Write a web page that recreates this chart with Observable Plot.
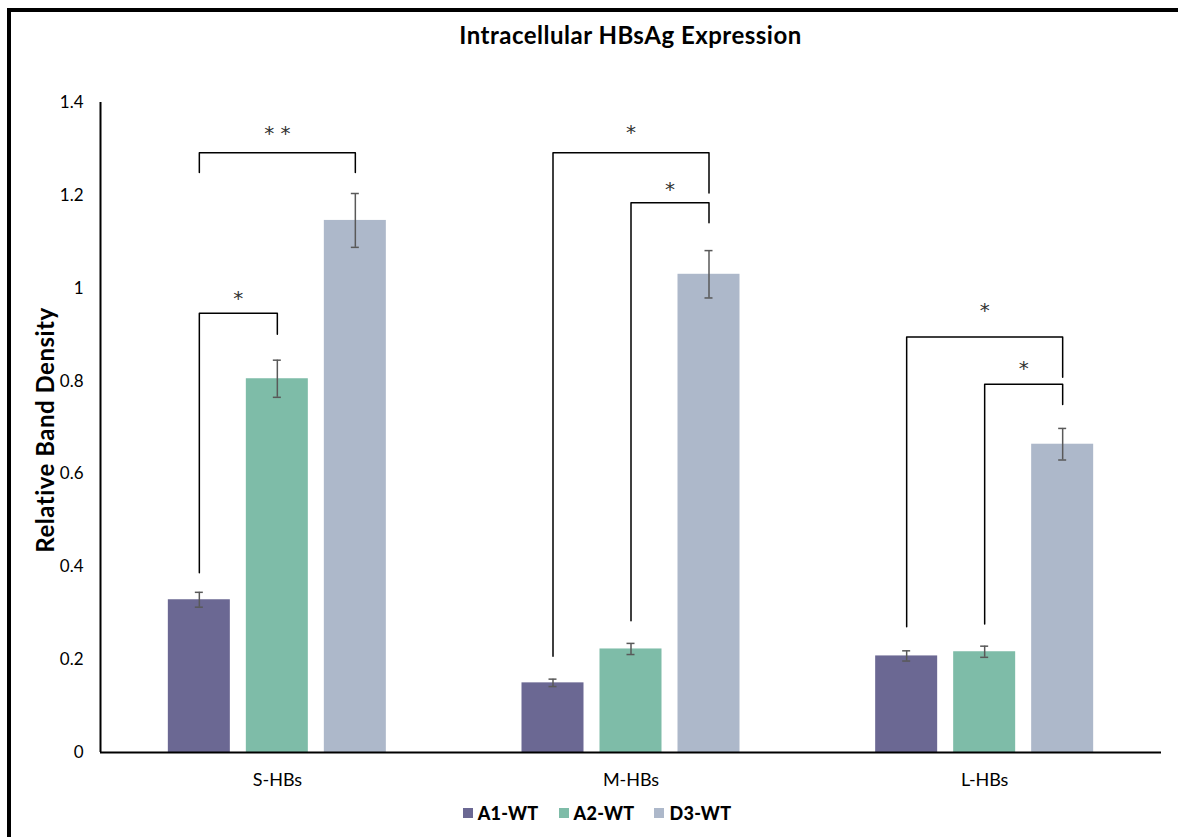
<!DOCTYPE html>
<html><head><meta charset="utf-8">
<script src="https://cdn.jsdelivr.net/npm/d3@7"></script>
<script src="https://cdn.jsdelivr.net/npm/@observablehq/plot@0.6"></script>
<style>
html,body{margin:0;padding:0;background:#fff;overflow:hidden}
#root{position:relative;width:1178px;height:837px;font-family:Lato,"Open Sans",sans-serif;color:#000}
#frame{position:absolute;left:7px;top:8px;width:1300px;height:1000px;border-left:4px solid #000;border-top:4px solid #000;box-sizing:border-box}
#chart{position:absolute;left:0;top:0}
#title{position:absolute;left:100px;width:1061px;top:20px;text-align:center;font-weight:bold;font-size:24px;letter-spacing:0.5px}
#ylabel{position:absolute;left:44px;top:430px;transform:translate(-50%,-50%) rotate(-90deg);white-space:nowrap;font-weight:bold;font-size:24px;letter-spacing:0.5px}
#legend{position:absolute;left:0;width:1194px;top:802px;display:flex;justify-content:center;gap:20px;font-weight:900;font-size:18px;letter-spacing:0.3px}
#legend span.item{display:flex;align-items:center}
#legend span.sw{display:inline-block;width:10px;height:10px;margin-right:5px}
</style></head>
<body>
<div id="root">
  <div id="frame"></div>
  <div id="chart"></div>
  <div id="title">Intracellular HBsAg Expression</div>
  <div id="ylabel">Relative Band Density</div>
  <div id="legend"></div>
</div>
<script>
// ---- data ----
const groups = ["S-HBs", "M-HBs", "L-HBs"];
const series = ["A1-WT", "A2-WT", "D3-WT"];
const colors = ["#6b6893", "#7ebca8", "#adb8ca"];
const sHBsValues = [0.329, 0.805, 1.146];
const mHBsValues = [0.150, 0.223, 1.030];
const lHBsValues = [0.208, 0.217, 0.664];
const sHBsErrors = [0.016, 0.040, 0.058];
const mHBsErrors = [0.008, 0.012, 0.051];
const lHBsErrors = [0.011, 0.012, 0.034];
const yTicks = [0, 0.2, 0.4, 0.6, 0.8, 1, 1.2, 1.4];

// significance brackets
const bracketGroup = ["S-HBs", "S-HBs", "M-HBs", "M-HBs", "L-HBs", "L-HBs"];
const bracketFrom  = ["A1-WT", "A1-WT", "A1-WT", "A2-WT", "A1-WT", "A2-WT"];
const bracketTo    = ["A2-WT", "D3-WT", "D3-WT", "D3-WT", "D3-WT", "D3-WT"];
const bracketTop   = [0.946, 1.292, 1.292, 1.184, 0.895, 0.793];
const bracketLeftEnd  = [0.387, 1.249, 0.2075, 0.284, 0.271, 0.277];
const bracketRightEnd = [0.901, 1.249, 1.205, 1.141, 0.808, 0.7495];
const bracketLabel = ["*", "* *", "*", "*", "*", "*"];
const bracketLabelY = [0.989, 1.343, 1.345, 1.223, 0.963, 0.837];

// ---- layout ----
const W = 1178, H = 837, ML = 100, MR = 17, MT = 102, MB = 85;
const band = (W - ML - MR) / groups.length;
const STEP = 78 / band, HALF = 31 / band, CAP = 4 / band;
const xc = (g, s) => groups.indexOf(g) + 0.5 + (series.indexOf(s) - 1) * STEP;

const values = [sHBsValues, mHBsValues, lHBsValues];
const errors = [sHBsErrors, mHBsErrors, lHBsErrors];
const rows = groups.flatMap((g, gi) => series.map((s, si) => ({
  group: g, series: s, value: values[gi][si], err: errors[gi][si], x: xc(g, s)
})));

const brackets = bracketGroup.map((g, i) => ({
  id: i, xl: xc(g, bracketFrom[i]), xr: xc(g, bracketTo[i]),
  top: bracketTop[i], le: bracketLeftEnd[i], re: bracketRightEnd[i],
  label: bracketLabel[i], ly: bracketLabelY[i]
}));
const bracketPts = brackets.flatMap(b => [
  {id: b.id, x: b.xl, y: b.le},
  {id: b.id, x: b.xl, y: b.top},
  {id: b.id, x: b.xr, y: b.top},
  {id: b.id, x: b.xr, y: b.re}
]);

const chart = Plot.plot({
  width: W, height: H,
  marginLeft: ML, marginRight: MR, marginTop: MT, marginBottom: MB,
  style: {fontFamily: "Lato, 'Open Sans', sans-serif", color: "#000", background: "transparent"},
  x: {domain: [0, groups.length], label: null},
  y: {domain: [0, 1.4], label: null},
  color: {domain: series, range: colors},
  marks: [
    Plot.rectY(rows, {x1: d => d.x - HALF, x2: d => d.x + HALF, y1: 0, y2: "value", fill: "series"}),
    Plot.ruleX(rows, {x: "x", y1: d => d.value - d.err, y2: d => d.value + d.err, stroke: "#595959", strokeWidth: 1.5}),
    Plot.ruleY(rows, {x1: d => d.x - CAP, x2: d => d.x + CAP, y: d => d.value + d.err, stroke: "#595959", strokeWidth: 1.5}),
    Plot.ruleY(rows, {x1: d => d.x - CAP, x2: d => d.x + CAP, y: d => d.value - d.err, stroke: "#595959", strokeWidth: 1.5}),
    Plot.line(bracketPts, {x: "x", y: "y", z: "id", stroke: "#000", strokeWidth: 1.5}),
    Plot.text(brackets, {x: d => (d.xl + d.xr) / 2, y: "ly", text: "label", fontSize: 20, dy: 5, fill: "#333", fontFamily: "DejaVu Sans"}),
    Plot.ruleY([0], {stroke: "#000", strokeWidth: 2}),
    Plot.ruleX([0], {stroke: "#000", strokeWidth: 2}),
    Plot.axisY({ticks: yTicks, tickFormat: d => String(d), tickSize: 0, tickPadding: 17, fontSize: 17, label: null}),
    Plot.axisX({ticks: groups.map((g, i) => i + 0.5), tickFormat: t => groups[Math.floor(t)], tickSize: 0, tickPadding: 21, fontSize: 18, label: null})
  ]
});
document.getElementById("chart").appendChild(chart);

const legend = document.getElementById("legend");
series.forEach((s, i) => {
  const item = document.createElement("span");
  item.className = "item";
  const sw = document.createElement("span");
  sw.className = "sw";
  sw.style.background = colors[i];
  item.appendChild(sw);
  item.appendChild(document.createTextNode(s));
  legend.appendChild(item);
});
</script>
</body></html>
